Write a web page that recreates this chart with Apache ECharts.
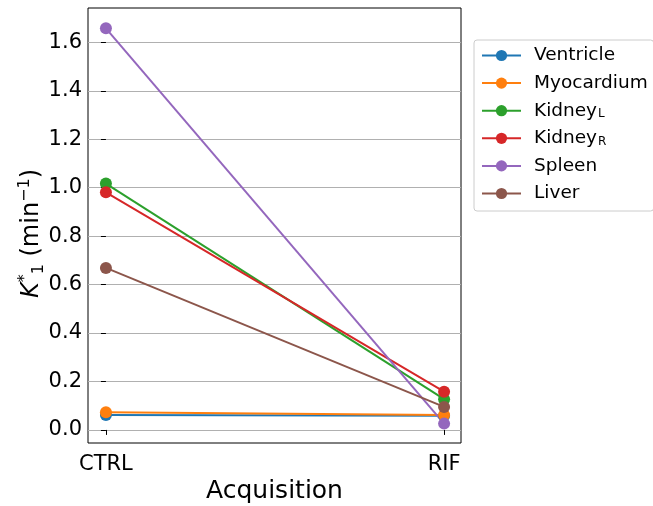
<!DOCTYPE html>
<html>
<head>
<meta charset="utf-8">
<script src="https://cdn.jsdelivr.net/npm/echarts@6/dist/echarts.min.js"></script>
<style>html,body{margin:0;padding:0;background:#fff}#c{width:653px;height:506px}</style>
</head>
<body>
<div id="c"></div>
<script>
var categories = ['CTRL', 'RIF'];
var yTicks = [0, 0.2, 0.4, 0.6, 0.8, 1.0, 1.2, 1.4, 1.6];
var seriesNames = ['Ventricle', 'Myocardium', 'Kidney_L', 'Kidney_R', 'Spleen', 'Liver'];
var ventricle = [0.062, 0.058];
var myocardium = [0.073, 0.062];
var kidneyL = [1.017, 0.127];
var kidneyR = [0.981, 0.158];
var spleen = [1.658, 0.026];
var liver = [0.669, 0.095];
var colors = ['#1f77b4', '#ff7f0e', '#2ca02c', '#d62728', '#9467bd', '#8c564b'];
var allValues = [ventricle, myocardium, kidneyL, kidneyR, spleen, liver];

var FONT = 'DejaVu Sans';
var chart = echarts.init(document.getElementById('c'), null, {renderer: 'canvas'});

function legendFmt(name) {
  var m = name.match(/^(.*)_(.)$/);
  if (m) return '{b|' + m[1] + '}{s|' + m[2] + '}';
  return '{b|' + name + '}';
}

var series = seriesNames.map(function (n, i) {
  return {
    name: n,
    type: 'line',
    data: allValues[i].map(function (v, j) { return [j, v]; }),
    symbol: 'circle',
    symbolSize: 12,
    lineStyle: {width: 2, color: colors[i]},
    itemStyle: {color: colors[i]},
    emphasis: {disabled: true},
    animation: false
  };
});

chart.setOption({
  animation: false,
  color: colors,
  grid: {left: 88, top: 8, right: 192, bottom: 63, containLabel: false, outerBoundsMode: 'none',
    show: true, borderColor: '#000', borderWidth: 1, backgroundColor: 'transparent'},
  legend: {
    orient: 'vertical',
    left: 474,
    top: 40,
    padding: [6, 6, 8, 7],
    itemWidth: 39,
    itemHeight: 14,
    itemGap: 8.6,
    borderColor: '#cccccc',
    borderWidth: 1,
    borderRadius: 3,
    data: seriesNames,
    formatter: legendFmt,
    lineStyle: {width: 2},
    textStyle: {
      fontFamily: FONT,
      color: '#000',
      padding: [0, 0, 0, 8],
      rich: {
        b: {fontFamily: FONT, fontSize: 18.5, lineHeight: 19, color: '#000', verticalAlign: 'middle'},
        s: {fontFamily: FONT, fontSize: 12, lineHeight: 19, color: '#000', verticalAlign: 'bottom', padding: [7, 0, 0, 1]}
      }
    }
  },
  xAxis: {
    type: 'value',
    min: -0.053,
    max: 1.05,
    name: 'Acquisition',
    nameLocation: 'middle',
    nameGap: 36,
    nameMoveOverlap: false,
    nameTextStyle: {fontFamily: FONT, fontSize: 25, color: '#000'},
    axisLine: {show: false},
    axisTick: {show: true, length: 5, lineStyle: {color: '#000', width: 1}, customValues: [0, 1]},
    axisLabel: {fontFamily: FONT, fontSize: 21, color: '#000', margin: 11, customValues: [0, 1],
      formatter: function (v) { return categories[Math.round(v)]; }},
    splitLine: {show: false}
  },
  yAxis: {
    type: 'value',
    min: -0.054,
    max: 1.742,
    name: '{k|K}{sup|*}{sub|1}{t| (min}{sup2|−1}{t|)}',
    nameLocation: 'middle',
    nameGap: 41,
    nameMoveOverlap: false,
    nameRotate: 90,
    nameTextStyle: {
      fontFamily: FONT, fontSize: 24, color: '#000',
      padding: [0, 16, 0, 0],
      rich: {
        k: {fontFamily: FONT, fontSize: 24, fontStyle: 'italic', color: '#000', lineHeight: 30, verticalAlign: 'middle'},
        t: {fontFamily: FONT, fontSize: 24, color: '#000', lineHeight: 30, verticalAlign: 'middle'},
        sup: {fontFamily: FONT, fontSize: 16, color: '#000', lineHeight: 30, verticalAlign: 'top'},
        sub: {fontFamily: FONT, fontSize: 16, color: '#000', lineHeight: 30, verticalAlign: 'bottom'},
        sup2: {fontFamily: FONT, fontSize: 16, color: '#000', lineHeight: 30, verticalAlign: 'top'}
      }
    },
    axisLine: {show: false},
    axisTick: {show: true, length: 5, lineStyle: {color: '#000', width: 1}, customValues: yTicks},
    axisLabel: {fontFamily: FONT, fontSize: 21, color: '#000', margin: 6, customValues: yTicks,
      formatter: function (v) { return v.toFixed(1); }},
    splitLine: {show: true, lineStyle: {color: '#b0b0b0', width: 1.2}}
  },
  series: series
});
</script>
</body>
</html>
